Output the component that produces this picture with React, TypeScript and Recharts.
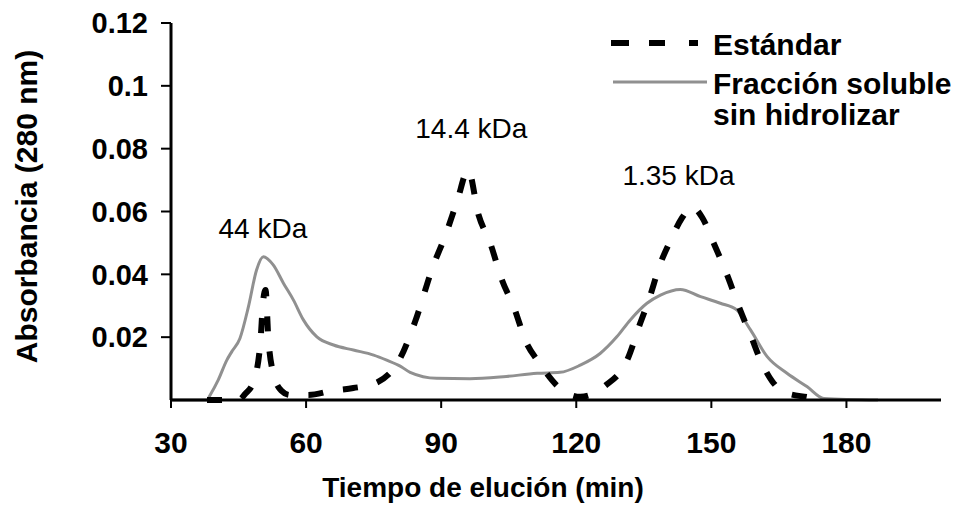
import React from 'react';
import { LineChart, Line, XAxis, YAxis, Legend, ReferenceDot, Label } from 'recharts';

// Elution time (min) and absorbance for the standard ("Estándar")
const standardTimes = [38, 45, 46.5, 48.2, 49.8, 50.5, 51, 51.6, 52.7, 54.5, 56.4, 60.4, 66, 70.5, 75.3, 80.9, 84.2, 88.3, 90.7, 93.5, 96, 98.3, 100.9, 103.5, 106.1, 109, 111.6, 116, 120.9, 126.4, 131.3, 134.2, 136.1, 138.7, 141, 143.5, 145.7, 148, 150.5, 153.8, 156.1, 159, 160.9, 163.5, 166, 171.3, 175];
const standardValues = [0, 0, 0.002, 0.0054, 0.0175, 0.032, 0.035, 0.02, 0.0086, 0.003, 0.0016, 0.0016, 0.003, 0.0038, 0.0053, 0.0133, 0.0249, 0.043, 0.0515, 0.0631, 0.0732, 0.0589, 0.0499, 0.0382, 0.0297, 0.018, 0.0122, 0.0042, 0.001, 0.0045, 0.0127, 0.0244, 0.0318, 0.0435, 0.051, 0.058, 0.0615, 0.058, 0.05, 0.0387, 0.0297, 0.0196, 0.0127, 0.006, 0.0026, 0.0009, 0];

// Elution time (min) and absorbance for the soluble fraction
const solubleTimes = [30, 38, 38.7, 40.5, 42.4, 43.5, 45.3, 47.2, 49, 50.5, 52.7, 55, 57.2, 59.4, 62.4, 66.1, 70.5, 75, 77.9, 80.9, 83.1, 89, 96.4, 103.8, 111.3, 116.4, 120.9, 125.3, 129, 132, 135.7, 138.7, 143.1, 147.6, 152, 155.7, 158.7, 162.4, 166.8, 171.3, 175, 187];
const solubleValues = [0, 0, 0.0016, 0.0064, 0.0127, 0.0154, 0.0196, 0.0297, 0.0414, 0.0456, 0.043, 0.0371, 0.0318, 0.0255, 0.0201, 0.0175, 0.0159, 0.0143, 0.0127, 0.0108, 0.0088, 0.0069, 0.0068, 0.0074, 0.0085, 0.0088, 0.0111, 0.0148, 0.0201, 0.0255, 0.0308, 0.0334, 0.0352, 0.0329, 0.0308, 0.0286, 0.0223, 0.0138, 0.0085, 0.0042, 0.0005, 0];

const xTicks = [30, 60, 90, 120, 150, 180];
const yTicks = [0.02, 0.04, 0.06, 0.08, 0.1, 0.12];

const peakLabels = ['44 kDa', '14.4 kDa', '1.35 kDa'];
const peakLabelTimes = [50.4, 96.7, 142.7];
const peakLabelValues = [0.0516, 0.0834, 0.0684];

const seriesNames = ['Estándar', 'Fracción soluble sin hidrolizar'];

const FONT = '"Liberation Sans", Arial, sans-serif';
const GRAY = '#909090';

const standardData = standardTimes.map((t, i) => ({ t, v: standardValues[i] }));
const solubleData = solubleTimes.map((t, i) => ({ t, v: solubleValues[i] }));

const renderLegend = () => (
  <svg width={370} height={120} style={{ display: 'block' }}>
    <rect x={11} y={20} width={18} height={6} fill="#000" />
    <rect x={49} y={20} width={16} height={6} fill="#000" />
    <rect x={89} y={20} width={9} height={6} fill="#000" />
    <text x={113} y={35} fontFamily={FONT} fontWeight="bold" fontSize={30} fill="#000">{seriesNames[0]}</text>
    <line x1={13} y1={62} x2={107} y2={62} stroke={GRAY} strokeWidth={3} />
    <text x={113} y={74} fontFamily={FONT} fontWeight="bold" fontSize={30} fill="#000">Fracción soluble</text>
    <text x={113} y={105} fontFamily={FONT} fontWeight="bold" fontSize={30} fill="#000">sin hidrolizar</text>
  </svg>
);

export default function App() {
  return (
    <div style={{ position: 'absolute', left: 0, top: 0, background: '#fff' }}>
      <LineChart width={970} height={509} margin={{ top: 23, right: 29, bottom: 0, left: 0 }}>
        <XAxis
          type="number"
          dataKey="t"
          domain={[30, 201]}
          allowDataOverflow
          ticks={xTicks}
          tickSize={8}
          tickMargin={24}
          height={109}
          axisLine={{ stroke: '#000', strokeWidth: 3 }}
          tickLine={{ stroke: '#000', strokeWidth: 2 }}
          tick={{ fontSize: 30, fontWeight: 'bold', fill: '#000', fontFamily: FONT }}
        >
          <Label
            content={(props: any) => {
              const vb = props.viewBox || { x: 171, y: 400, width: 770 };
              return (
                <text x={vb.x + 312} y={497} textAnchor="middle" fontFamily={FONT} fontWeight="bold" fontSize={28} fill="#000">
                  Tiempo de elución (min)
                </text>
              );
            }}
          />
        </XAxis>
        <YAxis
          type="number"
          domain={[0, 0.12]}
          ticks={yTicks}
          width={171}
          tickSize={10}
          tickMargin={13}
          axisLine={{ stroke: '#000', strokeWidth: 3 }}
          tickLine={{ stroke: '#000', strokeWidth: 2 }}
          tick={{ fontSize: 29, fontWeight: 'bold', fill: '#000', fontFamily: FONT }}
          tickFormatter={(v: number) => String(v)}
        >
          <Label
            content={(props: any) => {
              const vb = props.viewBox || { x: 0, y: 23, width: 171, height: 377 };
              const cy = vb.y + vb.height / 2 - 5;
              return (
                <text x={37} y={cy} transform={`rotate(-90, 37, ${cy})`} textAnchor="middle" fontFamily={FONT} fontWeight="bold" fontSize={30} fill="#000">
                  Absorbancia (280 nm)
                </text>
              );
            }}
          />
        </YAxis>
        <Legend
          layout="vertical"
          align="center"
          verticalAlign="middle"
          content={renderLegend}
          wrapperStyle={{ left: 600, top: 20, width: 370, height: 120 }}
        />
        <Line
          data={solubleData}
          dataKey="v"
          name={seriesNames[1]}
          type="monotone"
          stroke={GRAY}
          strokeWidth={3}
          dot={false}
          activeDot={false}
          isAnimationActive={false}
        />
        <Line
          data={standardData}
          dataKey="v"
          name={seriesNames[0]}
          type="monotone"
          stroke="#000"
          strokeWidth={6}
          strokeDasharray="15 20"
          dot={false}
          activeDot={false}
          isAnimationActive={false}
        />
        {peakLabels.map((lbl, i) => (
          <ReferenceDot
            key={lbl}
            x={peakLabelTimes[i]}
            y={peakLabelValues[i]}
            r={0}
            shape={(p: any) => (
              <text x={p.cx} y={p.cy} textAnchor="middle" fontFamily={FONT} fontSize={28} fill="#000">
                {lbl}
              </text>
            )}
          />
        ))}
      </LineChart>
    </div>
  );
}
